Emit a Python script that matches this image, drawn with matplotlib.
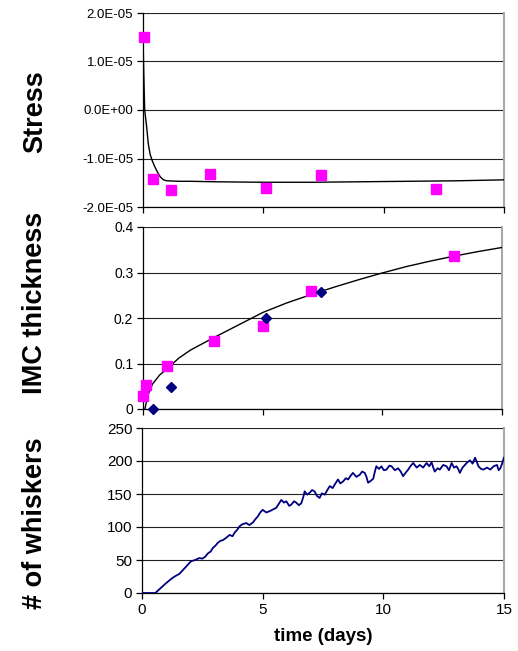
import matplotlib
matplotlib.use("Agg")
import matplotlib.pyplot as plt
from matplotlib.ticker import FuncFormatter

plt.rcParams["font.family"] = ["Liberation Sans", "DejaVu Sans"]

# --- stress panel ---
stress_t = [0.05, 0.42, 1.15, 2.8, 5.1, 7.38, 12.18]
stress_v = [1.51e-5, -1.42e-5, -1.64e-5, -1.31e-5, -1.61e-5, -1.35e-5, -1.62e-5]
stress_fit_t = [0.0, 0.03, 0.07, 0.15, 0.22, 0.3, 0.38, 0.48, 0.6, 0.72, 0.85, 1.0,
                1.5, 2.0, 3.0, 5.0, 7.0, 9.0, 11.0, 13.0, 15.0]
stress_fit_v = [1.5e-5, 0.8e-5, 0.0, -0.34e-5, -0.7e-5, -0.92e-5, -1.04e-5, -1.16e-5,
                -1.28e-5, -1.38e-5, -1.44e-5, -1.46e-5, -1.47e-5, -1.47e-5, -1.48e-5,
                -1.49e-5, -1.49e-5, -1.48e-5, -1.47e-5, -1.46e-5, -1.44e-5]

# --- IMC thickness panel ---
imc_sq_t = [0.0, 0.13, 0.99, 2.97, 5.0, 7.0, 13.0]
imc_sq_v = [0.028, 0.053, 0.095, 0.149, 0.182, 0.259, 0.337]
imc_dia_t = [0.43, 1.18, 5.12, 7.42]
imc_dia_v = [0.0, 0.049, 0.199, 0.258]
imc_fit_t = [0.08, 0.2, 0.4, 0.7, 1.0, 1.5, 2.0, 3.0, 4.0, 5.0, 6.0, 7.0, 8.0,
             9.0, 10.0, 11.0, 12.0, 13.0, 14.0, 15.0]
imc_fit_v = [0.0, 0.03, 0.055, 0.075, 0.088, 0.112, 0.13, 0.158, 0.185, 0.212,
             0.233, 0.251, 0.268, 0.284, 0.299, 0.313, 0.325, 0.336, 0.346, 0.355]

# --- whiskers panel ---
wh_t = [0.0, 0.55, 0.7, 0.85, 1.0, 1.1, 1.27, 1.4, 1.55, 1.7, 1.83, 2.03, 2.2,
        2.38, 2.5, 2.62, 2.73, 2.85, 2.93, 3.05, 3.14, 3.25, 3.35, 3.5, 3.63, 3.75,
        3.83, 3.95, 4.04, 4.15, 4.32, 4.45, 4.6, 4.7, 4.8, 4.9, 5.0, 5.15, 5.29,
        5.45, 5.56, 5.65, 5.77, 5.88, 5.98, 6.1, 6.19, 6.3, 6.39, 6.5, 6.6, 6.68,
        6.74, 6.85, 6.95, 7.05, 7.15, 7.25, 7.36, 7.45, 7.57, 7.68, 7.78, 7.9,
        7.98, 8.05, 8.12, 8.22, 8.33, 8.45, 8.54, 8.65, 8.74, 8.88, 9.02, 9.12,
        9.23, 9.3, 9.37, 9.48, 9.58, 9.65, 9.71, 9.82, 9.92, 10.02, 10.13, 10.25,
        10.34, 10.48, 10.61, 10.72, 10.82, 10.92, 11.03, 11.14, 11.24, 11.38,
        11.51, 11.65, 11.79, 11.9, 12.0, 12.06, 12.13, 12.25, 12.34, 12.48, 12.62,
        12.72, 12.83, 12.93, 13.03, 13.1, 13.17, 13.28, 13.38, 13.48, 13.59,
        13.7, 13.8, 13.87, 13.94, 14.05, 14.15, 14.3, 14.43, 14.57, 14.71, 14.78,
        14.85, 14.92, 15.0]
wh_n = [0, 0, 5, 10, 15, 18, 23, 26, 29, 35, 40, 48, 50, 53, 52, 55, 60, 63, 68,
        72, 76, 79, 80, 84, 88, 86, 91, 96, 101, 104, 106, 103, 107, 112, 116, 122,
        126, 122, 124, 127, 129, 134, 141, 137, 139, 132, 134, 139, 137, 133, 136,
        145, 154, 149, 152, 156, 154, 147, 144, 151, 149, 156, 162, 159, 164, 168,
        172, 166, 169, 174, 172, 178, 182, 176, 179, 184, 182, 176, 167, 170, 173,
        184, 192, 188, 192, 186, 187, 193, 192, 186, 189, 184, 177, 182, 187, 193,
        197, 190, 194, 190, 197, 192, 198, 191, 184, 189, 187, 194, 192, 186, 197,
        190, 192, 188, 182, 190, 194, 198, 201, 196, 205, 199, 192, 188, 187, 190,
        187, 192, 194, 186, 189, 196, 205]

GRID = "#222222"
RIGHT = "#a8a8a8"


def style_axes(ax, yticks, show_xlabels, label_size):
    ax.set_xlim(0, 15)
    ax.set_xticks([0, 5, 10, 15])
    ax.set_yticks(yticks)
    ax.set_ylim(yticks[0], yticks[-1])
    ax.grid(axis="y", color=GRID, linewidth=0.8)
    ax.set_axisbelow(True)
    ax.spines["right"].set_color(RIGHT)
    ax.spines["right"].set_linewidth(1.5)
    ax.spines["top"].set_visible(False)
    ax.spines["left"].set_linewidth(0.9)
    ax.spines["bottom"].set_linewidth(0.9)
    ax.tick_params(direction="out", length=4, width=0.9, labelsize=label_size, pad=3)
    if not show_xlabels:
        ax.tick_params(axis="x", labelbottom=False)


fig = plt.figure(figsize=(5.18, 6.51), dpi=100)
W, H = 518.0, 651.0


def add_ax(x0, x1, y0, y1):
    return fig.add_axes([x0 / W, 1 - y1 / H, (x1 - x0) / W, (y1 - y0) / H])


ax1 = add_ax(143, 504, 13, 207)
ax2 = add_ax(143, 502, 227, 409)
ax3 = add_ax(142, 504, 428, 593)

# stress
ax1.plot(stress_fit_t, stress_fit_v, color="black", linewidth=1.0, zorder=3)
ax1.plot(stress_t, stress_v, linestyle="none", marker="s", markersize=7,
         color="#ff00ff", zorder=4, clip_on=False)
style_axes(ax1, [-2e-5, -1e-5, 0.0, 1e-5, 2e-5], False, 9.5)
ax1.yaxis.set_major_formatter(FuncFormatter(lambda v, p: f"{v:.1E}"))

# IMC thickness
ax2.plot(imc_fit_t, imc_fit_v, color="black", linewidth=1.0, zorder=3)
ax2.plot(imc_sq_t, imc_sq_v, linestyle="none", marker="s", markersize=7,
         color="#ff00ff", zorder=4, clip_on=False)
ax2.plot(imc_dia_t, imc_dia_v, linestyle="none", marker="D", markersize=5,
         color="#000080", zorder=5, clip_on=False)
style_axes(ax2, [0, 0.1, 0.2, 0.3, 0.4], False, 10)
ax2.yaxis.set_major_formatter(FuncFormatter(lambda v, p: "0" if v == 0 else f"{v:.1f}"))

# whiskers
ax3.plot(wh_t, wh_n, color="#000080", linewidth=1.3, zorder=3)
style_axes(ax3, [0, 50, 100, 150, 200, 250], True, 11)
ax3.set_xlabel("time (days)", fontsize=13.5, fontweight="bold", labelpad=8)

for label, yc in [("Stress", 112), ("IMC thickness", 303), ("# of whiskers", 523)]:
    fig.text(35 / W, 1 - yc / H, label, rotation=90, ha="center", va="center",
             fontsize=19.5, fontweight="bold")

fig.savefig("out.png", dpi=100)
